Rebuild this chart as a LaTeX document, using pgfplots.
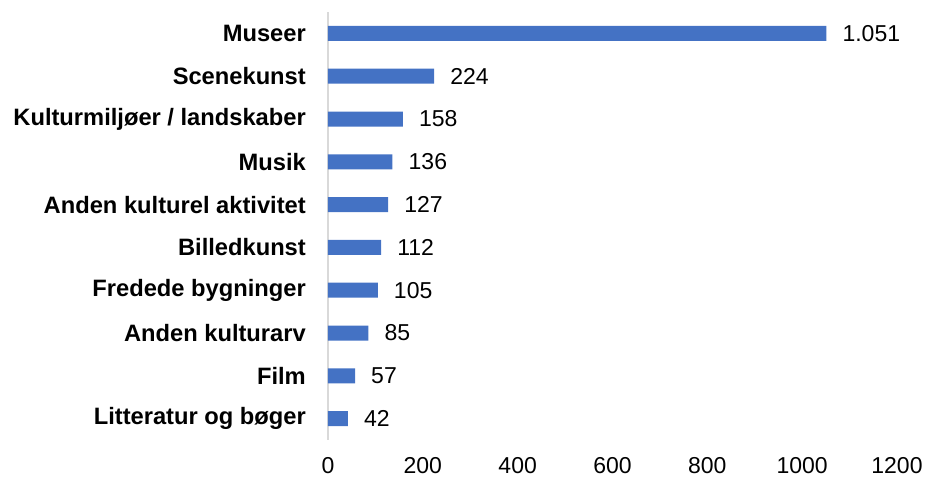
\documentclass[border=0pt]{standalone}
\usepackage{pgfplots}
\pgfplotsset{compat=1.18}
\usepackage{fontspec}
\setmainfont{Liberation Sans}
\definecolor{barblue}{HTML}{4472C4}
\definecolor{axgray}{HTML}{D9D9D9}
\begin{document}
\begin{tikzpicture}
\begin{axis}[
  scale only axis,
  width=569pt, height=428pt,
  xbar, bar width=15pt,
  xmin=0, xmax=1200,
  ymin=-0.5, ymax=9.5,
  y dir=reverse,
  xtick={0,200,...,1200},
  ytick={0,...,9},
  yticklabels={Museer,Scenekunst,Kulturmiljøer / landskaber,Musik,Anden kulturel aktivitet,Billedkunst,Fredede bygninger,Anden kulturarv,Film,Litteratur og bøger},
  major tick length=0pt,
  axis lines*=left,
  axis line style={-},
  x axis line style={draw=none},
  y axis line style={color=axgray, line width=1.5pt},
  /pgf/number format/assume math mode=true,
  xticklabel style={font=\fontsize{23}{27}\selectfont, anchor=north, inner sep=0pt, yshift=-17pt, /pgf/number format/1000 sep={}},
  yticklabel style={font=\fontsize{23.7}{28}\selectfont\bfseries, anchor=east, inner sep=0pt, xshift=-22pt},
  nodes near coords={\pgfmathprintnumber[1000 sep={.}]{\pgfplotspointmeta}},
  nodes near coords style={font=\fontsize{23}{27}\selectfont, anchor=west, inner sep=0pt, xshift=16pt},
  clip=false,
]
\addplot[fill=barblue, draw=none] coordinates {
(1051,0) (224,1) (158,2) (136,3) (127,4) (112,5) (105,6) (85,7) (57,8) (42,9)
};
\end{axis}
\pgfresetboundingbox
\path[use as bounding box] (-328pt,-37pt) rectangle (597pt,440pt);
\end{tikzpicture}
\end{document}
